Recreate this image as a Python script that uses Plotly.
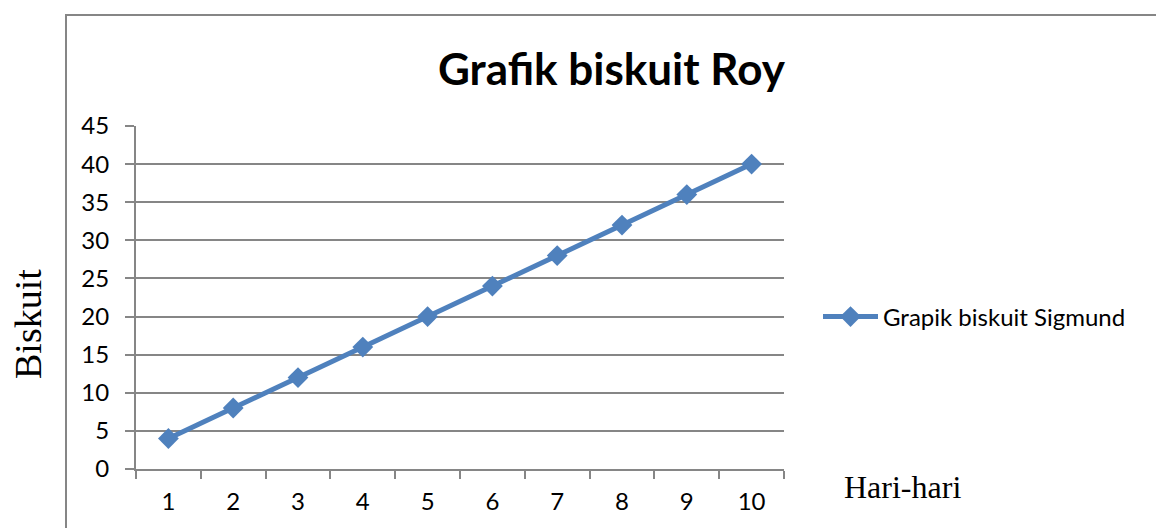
import plotly.graph_objects as go

# Data
days = [1, 2, 3, 4, 5, 6, 7, 8, 9, 10]
biscuits = [4, 8, 12, 16, 20, 24, 28, 32, 36, 40]
series_name = "Grapik biskuit Sigmund"
title_text = "Grafik biskuit Roy"
y_title = "Biskuit"
x_title = "Hari-hari"

W, H = 1156, 528
L, R, T, B = 136, 784, 126, 469  # plot area in pixels
pw, ph = R - L, B - T


def px(x):
    return (x - L) / pw


def py(y):
    return (B - y) / ph


blue = "#4F81BD"
gray = "#868686"
font_sans = "Lato, 'Noto Sans', sans-serif"
font_serif = "'Liberation Serif', 'Times New Roman', serif"

fig = go.Figure()
fig.add_trace(go.Scatter(
    x=[str(d) for d in days], y=biscuits, name=series_name,
    mode="lines+markers",
    line=dict(color=blue, width=5),
    marker=dict(symbol="diamond", size=16, color=blue),
))

fig.update_layout(
    width=W, height=H,
    margin=dict(l=L, r=W - R, t=T, b=H - B, pad=0),
    paper_bgcolor="white", plot_bgcolor="white",
    showlegend=True,
    legend=dict(x=px(818), y=py(317), xanchor="left", yanchor="middle",
                font=dict(family=font_sans, size=24, color="black"),
                itemwidth=55, bgcolor="rgba(0,0,0,0)"),
    font=dict(family=font_sans, color="black"),
)

fig.update_xaxes(
    type="category", tickson="boundaries", range=[-0.5, 9.5],
    showline=True, linecolor=gray, linewidth=2,
    ticks="outside", ticklen=8, tickcolor=gray, tickwidth=2,
    showgrid=False, zeroline=False,
    tickfont=dict(family=font_sans, size=24, color="black"),
    ticklabelstandoff=10,
)
fig.update_yaxes(
    range=[0, 45], dtick=5, tick0=0,
    showline=True, linecolor=gray, linewidth=2,
    ticks="outside", ticklen=9, tickcolor=gray, tickwidth=2,
    showgrid=True, gridcolor=gray, gridwidth=1.5, zeroline=False,
    tickfont=dict(family=font_sans, size=24, color="black"),
    ticklabelstandoff=11,
)

# Chart frame (left and top edges of the chart box)
fig.add_shape(type="path", xref="paper", yref="paper",
              path=f"M {px(66)} {py(540)} L {px(66)} {py(15)} L {px(1170)} {py(15)}",
              line=dict(color=gray, width=2))

fig.add_annotation(text=f"<b>{title_text}</b>", xref="paper", yref="paper",
                   x=px(612), y=py(68), xanchor="center", yanchor="middle",
                   showarrow=False, font=dict(family=font_sans, size=44, color="black"))
fig.add_annotation(text=y_title, xref="paper", yref="paper",
                   x=px(28), y=py(324), xanchor="center", yanchor="middle",
                   textangle=-90, showarrow=False,
                   font=dict(family=font_serif, size=38, color="black"))
fig.add_annotation(text=x_title, xref="paper", yref="paper",
                   x=px(842), y=py(487), xanchor="left", yanchor="middle",
                   showarrow=False, font=dict(family=font_serif, size=32, color="black"))

fig.write_html("out.html")
